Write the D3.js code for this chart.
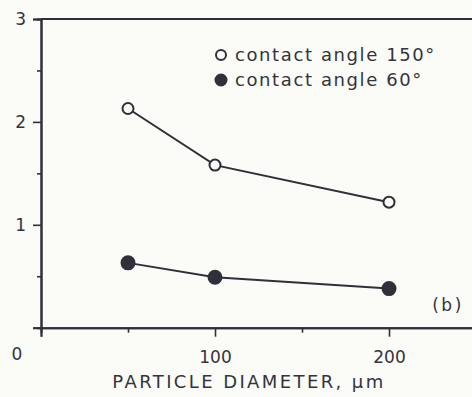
<!DOCTYPE html>
<html>
<head>
<meta charset="utf-8">
<script src="https://cdn.jsdelivr.net/npm/d3@7"></script>
<style>
  body { margin: 0; background: #fbfbf8; }
  svg { display: block; }
  text { font-family: "DejaVu Sans", sans-serif; fill: #34343c; }
</style>
</head>
<body>
<div id="chart"></div>
<script>
// particle diameter (um) and the two measured series
const diameters = [50, 100, 200];
const angle150 = [2.13, 1.58, 1.22];
const angle60 = [0.63, 0.49, 0.38];

const xTicks = [0, 100, 200];
const xMinor = [50, 150, 250];
const yTicks = [0, 1, 2, 3];
const yMinor = [0.5, 1.5, 2.5];

const legendLabels = ['contact angle 150°', 'contact angle 60°'];
const xTitle = 'PARTICLE DIAMETER, µm';
const panelLabel = '(b)';

const width = 472, height = 397;
const ink = '#303038';

const svg = d3.select('#chart')
    .append('svg')
    .attr('width', width)
    .attr('height', height);

// scales
const x = d3.scaleLinear().domain([0, 250]).range([41, 476]);
const y = d3.scaleLinear().domain([0, 3]).range([327.7, 19]);

// y axis, major + minor ticks
svg.append('g')
    .attr('transform', `translate(${x(0)},0)`)
    .call(d3.axisLeft(y).tickValues(yTicks).tickSize(8).tickPadding(7).tickFormat(d => d === 0 ? '' : d));
svg.append('g')
    .attr('transform', `translate(${x(0)},0)`)
    .call(d3.axisLeft(y).tickValues(yMinor).tickSize(4).tickFormat(''));

// x axis
svg.append('g')
    .attr('transform', `translate(0,${y(0)})`)
    .call(d3.axisBottom(x).tickValues(xTicks).tickSize(9).tickPadding(14).tickFormat(d => d === 0 ? '' : d));
svg.append('g')
    .attr('transform', `translate(0,${y(0)})`)
    .call(d3.axisBottom(x).tickValues(xMinor).tickSize(5).tickFormat(''));

// top frame
svg.append('line')
    .attr('x1', x(0)).attr('x2', width)
    .attr('y1', y(3)).attr('y2', y(3))
    .attr('stroke', ink).attr('stroke-width', 2);

svg.selectAll('.domain')
    .attr('stroke', ink).attr('stroke-width', 2);
svg.selectAll('.tick line')
    .attr('stroke', ink).attr('stroke-width', 1.6);
svg.selectAll('.tick text')
    .style('font-size', '17px')
    .style('fill', '#34343c');

// origin label sits left-below the corner
svg.append('text')
    .attr('x', x(0) - 24)
    .attr('y', y(0) + 32)
    .attr('text-anchor', 'middle')
    .style('font-size', '17px')
    .text(0);

// lines and markers
const line = d3.line()
    .x((d, i) => x(diameters[i]))
    .y(d => y(d));

[[angle150, 'open'], [angle60, 'filled']].forEach(([vals, kind]) => {
    svg.append('path')
        .datum(vals)
        .attr('d', line)
        .attr('fill', 'none')
        .attr('stroke', ink)
        .attr('stroke-width', 2);

    svg.selectAll('.pt-' + kind)
        .data(vals)
        .join('circle')
        .attr('class', 'pt-' + kind)
        .attr('cx', (d, i) => x(diameters[i]))
        .attr('cy', d => y(d))
        .attr('r', kind === 'open' ? 5.5 : 6.5)
        .attr('fill', kind === 'open' ? '#fbfbf8' : ink)
        .attr('stroke', ink)
        .attr('stroke-width', 2);
});

// legend
const legend = svg.append('g').attr('transform', 'translate(221,55)');
legendLabels.forEach((label, i) => {
    const g = legend.append('g').attr('transform', `translate(0,${i * 25})`);
    g.append('circle')
        .attr('r', i === 0 ? 5 : 5.5)
        .attr('fill', i === 0 ? '#fbfbf8' : ink)
        .attr('stroke', ink)
        .attr('stroke-width', 2);
    g.append('text')
        .attr('x', 14)
        .attr('dy', '0.35em')
        .style('font-size', '18px')
        .style('letter-spacing', '1.6px')
        .text(label);
});

// panel label
svg.append('text')
    .attr('x', 448)
    .attr('y', 311)
    .attr('text-anchor', 'middle')
    .style('font-size', '17px')
    .style('letter-spacing', '2.5px')
    .text(panelLabel);

// axis title
svg.append('text')
    .attr('x', 249)
    .attr('y', 388)
    .attr('text-anchor', 'middle')
    .style('font-size', '18px')
    .style('letter-spacing', '2.4px')
    .text(xTitle);
</script>
</body>
</html>
